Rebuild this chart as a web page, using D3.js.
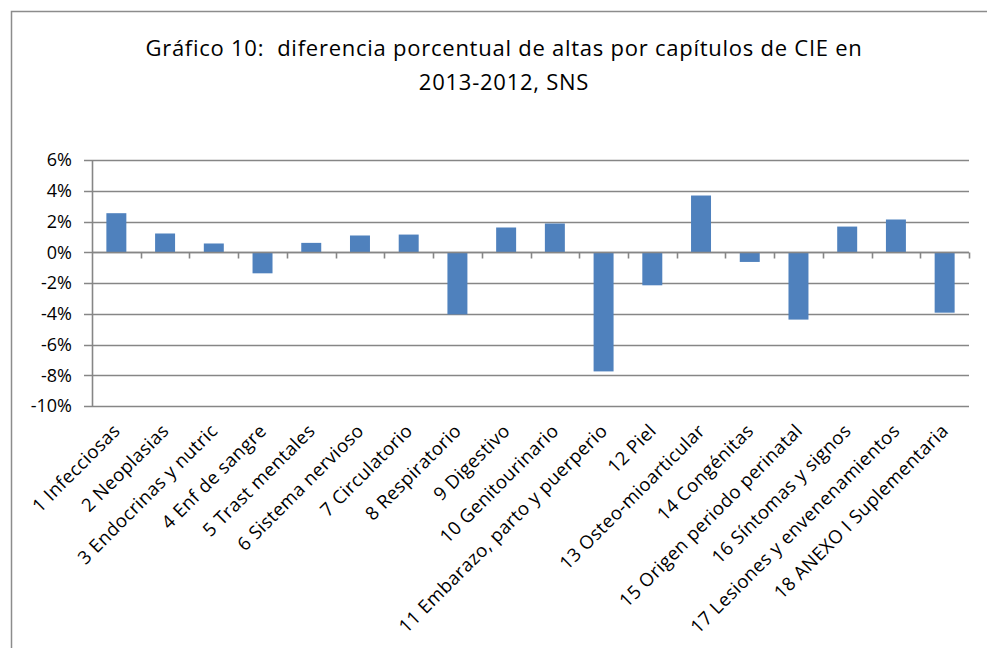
<!DOCTYPE html>
<html>
<head>
<meta charset="utf-8">
<script src="https://d3js.org/d3.v7.min.js"></script>
<style>
    body { margin: 0; background: #fff; }
    svg text { font-family: "Open Sans", sans-serif; fill: #000; }
    .grid line { stroke: #868686; stroke-width: 1.6px; }
    .axis path, .axis line { stroke: #868686; stroke-width: 1.6px; }
</style>
</head>
<body>
<svg width="987" height="648"></svg>
<script>
    var categories = ["1 Infecciosas", "2 Neoplasias", "3 Endocrinas y nutric", "4 Enf de sangre",
        "5 Trast mentales", "6 Sistema nervioso", "7 Circulatorio", "8 Respiratorio", "9 Digestivo",
        "10 Genitourinario", "11 Embarazo, parto y puerperio", "12 Piel", "13 Osteo-mioarticular",
        "14 Congénitas", "15 Origen periodo perinatal", "16 Síntomas y signos",
        "17 Lesiones y envenenamientos", "18 ANEXO I Suplementaria"];
    var values = [2.54, 1.22, 0.57, -1.37, 0.61, 1.09, 1.15, -4.04, 1.61, 1.87, -7.75, -2.15, 3.69,
        -0.63, -4.38, 1.67, 2.13, -3.93];
    var yTicks = [6, 4, 2, 0, -2, -4, -6, -8, -10];
    var titleLines = ["Gráfico 10:  diferencia porcentual de altas por capítulos de CIE en", "2013-2012, SNS"];

    var svg = d3.select("svg");
    var margin = { top: 160, left: 92, right: 18, bottom: 242 };
    var width = 987 - margin.left - margin.right,
        height = 648 - margin.top - margin.bottom;

    // frame
    svg.append("path")
        .attr("d", "M11.5,648V11.5H987")
        .attr("fill", "none")
        .attr("stroke", "#8c8c8c")
        .attr("stroke-width", 1.5);

    svg.selectAll(".title")
        .data(titleLines)
        .enter().append("text")
        .attr("class", "title")
        .attr("x", 504)
        .attr("y", function (d, i) { return 56 + i * 34; })
        .attr("text-anchor", "middle")
        .style("font-size", "22px")
        .style("letter-spacing", "0.75px")
        .style("white-space", "pre")
        .text(function (d) { return d; });

    var x = d3.scaleBand().domain(categories).range([0, width]).paddingInner(0.59).paddingOuter(0.295);
    var y = d3.scaleLinear().domain([-10, 6]).range([height, 0]);

    var g = svg.append("g").attr("transform", "translate(" + margin.left + "," + margin.top + ")");

    g.append("g")
        .attr("class", "grid")
        .selectAll("line")
        .data(yTicks)
        .enter().append("line")
        .attr("x1", -8)
        .attr("x2", width)
        .attr("y1", function (d) { return Math.round(y(d)) + 0.5; })
        .attr("y2", function (d) { return Math.round(y(d)) + 0.5; });

    g.append("g")
        .attr("class", "axis")
        .call(d3.axisLeft(y).tickValues(yTicks).tickSize(0).tickPadding(20)
            .tickFormat(function (d) { return d + "%"; }))
        .call(function (s) {
            s.select(".domain").attr("d", "M0.5,0V" + height);
            s.selectAll("text").style("font-size", "18px").attr("fill", "#000");
        });

    g.selectAll(".bar")
        .data(values)
        .enter().append("rect")
        .attr("class", "bar")
        .attr("x", function (d, i) { return x(categories[i]); })
        .attr("width", x.bandwidth())
        .attr("y", function (d) { return y(Math.max(0, d)); })
        .attr("height", function (d) { return Math.abs(y(d) - y(0)); })
        .attr("fill", "#4F81BD");

    // category axis at 0
    var step = x.step();
    var xa = g.append("g").attr("class", "axis").attr("transform", "translate(0," + (Math.round(y(0)) + 0.5) + ")");
    xa.append("line").attr("x1", 0).attr("x2", width);
    xa.selectAll(".tk")
        .data(d3.range(1, categories.length + 1))
        .enter().append("line")
        .attr("class", "tk")
        .attr("x1", function (d) { return Math.round(d * step) + 0.5; })
        .attr("x2", function (d) { return Math.round(d * step) + 0.5; })
        .attr("y1", 0)
        .attr("y2", 6);

    // category labels below plot
    g.append("g")
        .selectAll("text")
        .data(categories)
        .enter().append("text")
        .attr("transform", function (d) {
            return "translate(" + (x(d) + x.bandwidth() / 2 + 5) + "," + (height + 26) + ") rotate(-45)";
        })
        .attr("text-anchor", "end")
        .style("font-size", "18.5px")
        .style("letter-spacing", "0.4px")
        .text(function (d) { return d; });
</script>
</body>
</html>
